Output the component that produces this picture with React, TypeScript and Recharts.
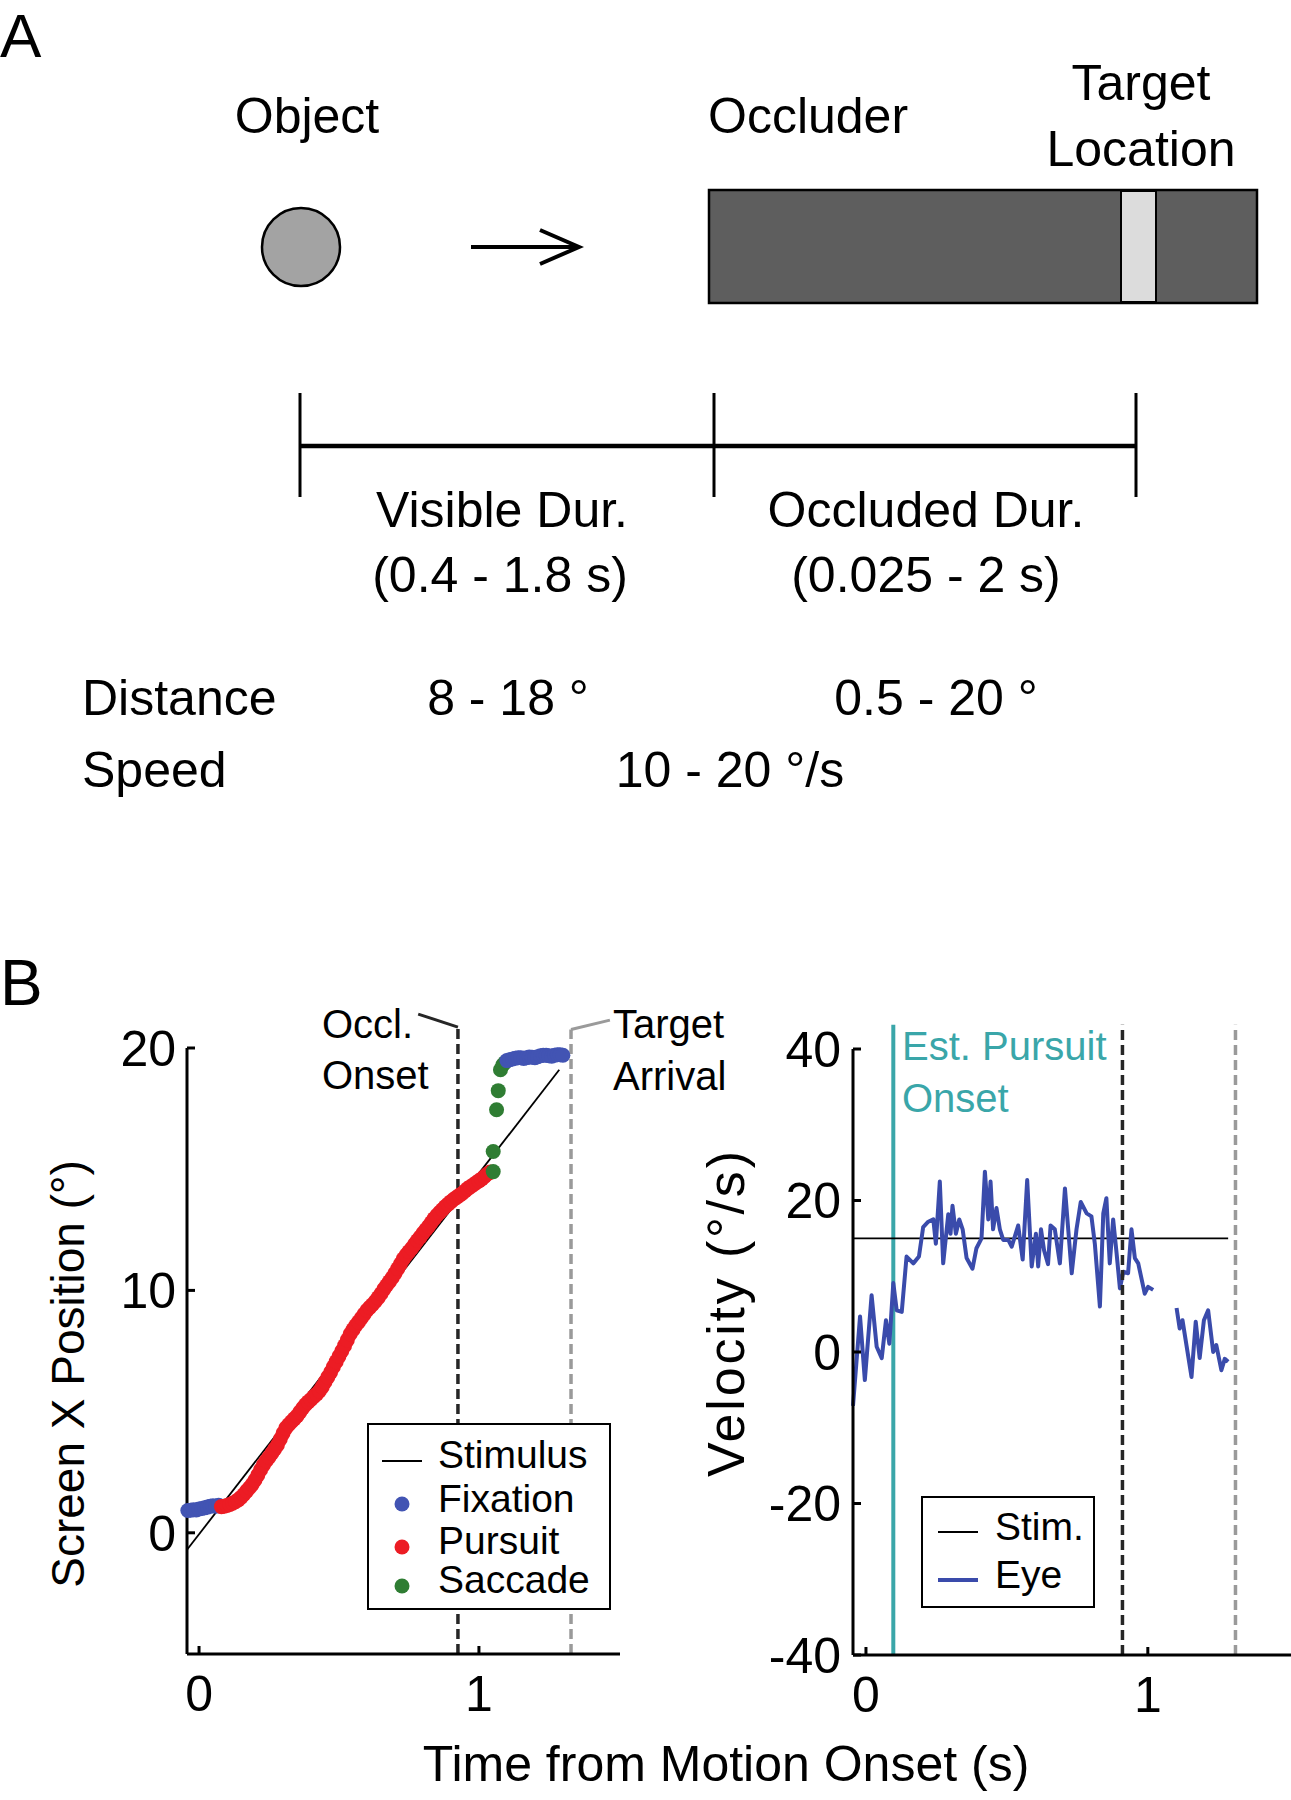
import {
  ComposedChart,
  Line,
  Scatter,
  XAxis,
  YAxis,
  ZAxis,
  ReferenceLine,
  Legend,
} from "recharts";

const FONT = "'Liberation Sans', Arial, Helvetica, sans-serif";

const BLUE = "#4254b3";
const RED = "#ec1c24";
const GREEN = "#2f7d33";
const TRACE = "#3a4bab";
const TEAL = "#3aa6a9";
const DARK = "#262626";
const GREY = "#9a9a9a";

// B left: eye position (s, deg)
const fixStartT = [-0.04, -0.03, -0.02, -0.01, 0.0, 0.01, 0.02, 0.03, 0.04, 0.05, 0.06, 0.07];
const fixStartX = [0.92, 0.93, 0.95, 0.94, 0.98, 1.0, 1.03, 1.06, 1.1, 1.12, 1.1, 1.14];

const pursuitT = [
  0.08, 0.09, 0.1, 0.11, 0.12, 0.13, 0.14, 0.15, 0.16, 0.17, 0.18, 0.19, 0.2, 0.21, 0.22, 0.23,
  0.24, 0.25, 0.26, 0.27, 0.28, 0.29, 0.3, 0.31, 0.32, 0.33, 0.34, 0.35, 0.36, 0.37, 0.38, 0.39,
  0.4, 0.41, 0.42, 0.43, 0.44, 0.45, 0.46, 0.47, 0.48, 0.49, 0.5, 0.51, 0.52, 0.53, 0.54, 0.55,
  0.56, 0.57, 0.58, 0.59, 0.6, 0.61, 0.62, 0.63, 0.64, 0.65, 0.66, 0.67, 0.68, 0.69, 0.7, 0.71,
  0.72, 0.73, 0.74, 0.75, 0.76, 0.77, 0.78, 0.79, 0.8, 0.81, 0.82, 0.83, 0.84, 0.85, 0.86, 0.87,
  0.88, 0.89, 0.9, 0.91, 0.92, 0.93, 0.94, 0.95, 0.96, 0.97, 0.98, 0.99, 1.0, 1.01, 1.02, 1.03, 1.04,
];
const pursuitX = [
  1.08, 1.1, 1.13, 1.17, 1.22, 1.28, 1.36, 1.46, 1.58, 1.72, 1.86, 2.0, 2.18, 2.38, 2.6, 2.8,
  2.97, 3.12, 3.28, 3.45, 3.62, 3.86, 4.1, 4.32, 4.46, 4.58, 4.7, 4.82, 4.98, 5.14, 5.28, 5.4,
  5.5, 5.62, 5.72, 5.85, 6.02, 6.22, 6.42, 6.62, 6.85, 7.06, 7.28, 7.5, 7.72, 7.96, 8.2, 8.38,
  8.55, 8.7, 8.86, 9.02, 9.18, 9.3, 9.42, 9.55, 9.7, 9.86, 10.04, 10.2, 10.36, 10.52, 10.7, 10.9,
  11.1, 11.3, 11.46, 11.6, 11.74, 11.9, 12.06, 12.2, 12.36, 12.5, 12.64, 12.8, 12.96, 13.1, 13.22, 13.34,
  13.46, 13.56, 13.66, 13.76, 13.84, 13.92, 14.0, 14.1, 14.2, 14.28, 14.36, 14.44, 14.52, 14.6, 14.7, 14.8, 14.88,
];

const saccadeT = [1.051, 1.051, 1.063, 1.069, 1.077, 1.085, 1.093];
const saccadeX = [14.9, 15.73, 17.45, 18.24, 19.1, 19.3, 19.4];

const fixEndT = [
  1.1, 1.11, 1.12, 1.13, 1.14, 1.15, 1.16, 1.17, 1.18, 1.19, 1.2, 1.21, 1.22, 1.23, 1.24, 1.25,
  1.26, 1.27, 1.28, 1.29, 1.3,
];
const fixEndX = [
  19.48, 19.52, 19.55, 19.58, 19.6, 19.6, 19.57, 19.6, 19.63, 19.62, 19.6, 19.64, 19.68, 19.7, 19.7, 19.68,
  19.66, 19.7, 19.72, 19.72, 19.7,
];

const stimPosT = [-0.043, 1.287];
const stimPosX = [-0.7, 19.1];

// event times as drawn in each panel (s)
const posEvents = { occlusion: 0.925, arrival: 1.329 };
const velEvents = { onset: 0.097, occlusion: 0.91, arrival: 1.311 };

// B right: eye velocity (s, deg/s); null = saccade gap
const eyeT = [
  -0.046, -0.021, -0.004, 0.02, 0.038, 0.056, 0.071, 0.083, 0.097, 0.109, 0.127, 0.144, 0.168,
  0.188, 0.203, 0.221, 0.239, 0.248, 0.262, 0.274, 0.292, 0.3, 0.307, 0.319, 0.331, 0.343, 0.357,
  0.378, 0.392, 0.41, 0.422, 0.434, 0.442, 0.451, 0.463, 0.475, 0.487, 0.505, 0.517, 0.54, 0.556,
  0.572, 0.588, 0.603, 0.611, 0.621, 0.632, 0.646, 0.655, 0.67, 0.688, 0.706, 0.73, 0.747, 0.762,
  0.783, 0.8, 0.812, 0.83, 0.842, 0.853, 0.865, 0.877, 0.889, 0.901, 0.913, 0.93, 0.942, 0.954,
  0.966, 0.989, 1.001, 1.019, 1.06, 1.102, 1.113, 1.123, 1.155, 1.17, 1.184, 1.199, 1.214, 1.232,
  1.243, 1.261, 1.273, 1.285,
];
const eyeV = [
  -7.1, 4.7, -3.7, 7.5, 0.7, -0.8, 4.2, 1.1, 9.1, 5.5, 5.3, 12.6, 11.7,
  12.6, 16.5, 17.2, 17.5, 14.3, 22.5, 11.7, 18.2, 15.6, 19.3, 15.6, 17.5, 16.2, 12.4,
  11.0, 13.7, 15.0, 23.8, 17.5, 22.5, 16.2, 19.0, 16.2, 14.8, 14.8, 13.9, 16.7, 12.2,
  22.7, 11.3, 15.6, 11.3, 16.2, 13.4, 11.6, 16.7, 16.2, 11.7, 21.6, 10.4, 16.2, 19.8,
  18.3, 17.9, 14.3, 6.0, 18.3, 20.3, 11.7, 17.5, 13.1, 8.4, 10.6, 10.4, 16.2, 12.4,
  11.7, 7.7, 8.6, 8.2, null, 5.8, 3.1, 4.2, -3.3, 4.0, -0.8, 4.2, 5.5, 0.0,
  0.9, -2.4, -0.9, -1.3,
];

const stimVelT = [-0.046, 1.285];
const stimVelV = [15, 15];

const zip = (ts: number[], ys: (number | null)[]) => ts.map((t, i) => ({ t, y: ys[i] }));

const axisStyle = { stroke: "#000", strokeWidth: 3 };
const tickStyle = { fill: "#000", fontSize: 50, fontFamily: FONT };

function PositionLegend() {
  const rows = [
    { label: "Fixation", color: BLUE, cy: 81, base: 89 },
    { label: "Pursuit", color: RED, cy: 124, base: 131 },
    { label: "Saccade", color: GREEN, cy: 163, base: 170 },
  ];
  return (
    <svg width={244} height={187} style={{ fontFamily: FONT, display: "block" }}>
      <rect x={1} y={1} width={242} height={185} fill="#fff" stroke="#000" strokeWidth={2} />
      <line x1={15} x2={55} y1={38} y2={38} stroke="#000" strokeWidth={1.8} />
      <text x={71} y={45} fontSize={39}>Stimulus</text>
      {rows.map((r) => (
        <g key={r.label}>
          <circle cx={35} cy={r.cy} r={7.5} fill={r.color} />
          <text x={71} y={r.base} fontSize={39}>{r.label}</text>
        </g>
      ))}
    </svg>
  );
}

function VelocityLegend() {
  return (
    <svg width={174} height={112} style={{ fontFamily: FONT, display: "block" }}>
      <rect x={1} y={1} width={172} height={110} fill="#fff" stroke="#000" strokeWidth={2} />
      <line x1={17} x2={57} y1={36} y2={36} stroke="#000" strokeWidth={1.8} />
      <text x={74} y={44} fontSize={39}>Stim.</text>
      <line x1={17} x2={57} y1={84} y2={84} stroke={TRACE} strokeWidth={4} />
      <text x={74} y={92} fontSize={39}>Eye</text>
    </svg>
  );
}

function PositionChart() {
  return (
    <ComposedChart width={640} height={745} margin={{ top: 48, right: 20, bottom: 0, left: 0 }}>
      <XAxis
        type="number"
        dataKey="t"
        domain={[-0.043, 1.504]}
        ticks={[0, 1]}
        interval={0}
        height={91}
        tickSize={-8}
        tickMargin={29}
        axisLine={axisStyle}
        tickLine={axisStyle}
        tick={tickStyle}
      />
      <YAxis
        type="number"
        dataKey="y"
        domain={[-5, 20]}
        ticks={[0, 10, 20]}
        interval={0}
        width={187}
        tickSize={-8}
        tickMargin={19}
        axisLine={axisStyle}
        tickLine={axisStyle}
        tick={tickStyle}
      />
      <ZAxis type="number" range={[177, 177]} />
      <Scatter data={zip(fixStartT, fixStartX)} fill={BLUE} isAnimationActive={false} />
      <Scatter data={zip(pursuitT, pursuitX)} fill={RED} isAnimationActive={false} />
      <Scatter data={zip(saccadeT, saccadeX)} fill={GREEN} isAnimationActive={false} />
      <Scatter data={zip(fixEndT, fixEndX)} fill={BLUE} isAnimationActive={false} />
      <Line
        data={zip(stimPosT, stimPosX)}
        dataKey="y"
        stroke="#000"
        strokeWidth={1.8}
        dot={false}
        isAnimationActive={false}
      />
      <ReferenceLine
        segment={[{ x: posEvents.occlusion, y: -5 }, { x: posEvents.occlusion, y: 20.86 }]}
        stroke={DARK}
        strokeWidth={3.5}
        strokeDasharray="10 5"
        ifOverflow="visible"
      />
      <ReferenceLine
        segment={[{ x: 0.783, y: 21.4 }, { x: posEvents.occlusion, y: 20.86 }]}
        stroke={DARK}
        strokeWidth={3}
        ifOverflow="visible"
      />
      <ReferenceLine
        segment={[{ x: posEvents.arrival, y: -5 }, { x: posEvents.arrival, y: 20.76 }]}
        stroke={GREY}
        strokeWidth={3.5}
        strokeDasharray="10 5"
        ifOverflow="visible"
      />
      <ReferenceLine
        segment={[{ x: posEvents.arrival, y: 20.76 }, { x: 1.468, y: 21.15 }]}
        stroke={GREY}
        strokeWidth={3}
        ifOverflow="visible"
      />
      <Legend
        layout="horizontal"
        verticalAlign="middle"
        align="center"
        content={() => <PositionLegend />}
        wrapperStyle={{ left: 367, top: 423, width: 244, height: 187 }}
      />
    </ComposedChart>
  );
}

function VelocityChart() {
  return (
    <ComposedChart width={631} height={745} margin={{ top: 49, right: 0, bottom: 0, left: 0 }}>
      <XAxis
        type="number"
        dataKey="t"
        domain={[-0.046, 1.508]}
        ticks={[0, 1]}
        interval={0}
        height={90}
        tickSize={-8}
        tickMargin={29}
        axisLine={axisStyle}
        tickLine={axisStyle}
        tick={tickStyle}
      />
      <YAxis
        type="number"
        dataKey="y"
        domain={[-40, 40]}
        ticks={[-40, -20, 0, 20, 40]}
        interval={0}
        width={193}
        tickSize={-8}
        tickMargin={20}
        axisLine={axisStyle}
        tickLine={axisStyle}
        tick={tickStyle}
      />
      <ReferenceLine
        segment={[{ x: velEvents.onset, y: -40 }, { x: velEvents.onset, y: 43.2 }]}
        stroke={TEAL}
        strokeWidth={4}
        ifOverflow="visible"
      />
      <Line
        data={zip(stimVelT, stimVelV)}
        dataKey="y"
        stroke="#000"
        strokeWidth={1.8}
        dot={false}
        isAnimationActive={false}
      />
      <Line
        data={zip(eyeT, eyeV)}
        dataKey="y"
        stroke={TRACE}
        strokeWidth={4}
        dot={false}
        strokeLinejoin="round"
        isAnimationActive={false}
      />
      <ReferenceLine
        segment={[{ x: velEvents.occlusion, y: -40 }, { x: velEvents.occlusion, y: 43.2 }]}
        stroke={DARK}
        strokeWidth={3.5}
        strokeDasharray="10 5"
        ifOverflow="visible"
      />
      <ReferenceLine
        segment={[{ x: velEvents.arrival, y: -40 }, { x: velEvents.arrival, y: 43.2 }]}
        stroke={GREY}
        strokeWidth={3.5}
        strokeDasharray="10 5"
        ifOverflow="visible"
      />
      <Legend
        layout="horizontal"
        verticalAlign="middle"
        align="center"
        content={() => <VelocityLegend />}
        wrapperStyle={{ left: 261, top: 496, width: 174, height: 112 }}
      />
    </ComposedChart>
  );
}

// Panel A schematic and the panel-level labels
function Overlay() {
  const t = { fontFamily: FONT, fill: "#000" };
  return (
    <svg
      width={1291}
      height={1800}
      style={{ position: "absolute", left: 0, top: 0, pointerEvents: "none" }}
    >
      <g {...t} fontSize={50}>
        <text x={0} y={57} fontSize={62}>A</text>
        <text x={307} y={133} textAnchor="middle">Object</text>
        <text x={708} y={133}>Occluder</text>
        <text x={1141} y={100} textAnchor="middle">Target</text>
        <text x={1141} y={166} textAnchor="middle">Location</text>

        <text x={502} y={527} textAnchor="middle">Visible Dur.</text>
        <text x={500} y={592} textAnchor="middle">(0.4 - 1.8 s)</text>
        <text x={926} y={527} textAnchor="middle">Occluded Dur.</text>
        <text x={926} y={592} textAnchor="middle">(0.025 - 2 s)</text>

        <text x={82} y={715}>Distance</text>
        <text x={508} y={715} textAnchor="middle">8 - 18 °</text>
        <text x={936} y={715} textAnchor="middle">0.5 - 20 °</text>
        <text x={82} y={787}>Speed</text>
        <text x={730} y={787} textAnchor="middle">10 - 20 °/s</text>
      </g>

      <circle cx={301} cy={247} r={39} fill="#a3a3a3" stroke="#000" strokeWidth={2.5} />
      <line x1={471} y1={247} x2={577} y2={247} stroke="#000" strokeWidth={4} />
      <polyline points="540,230 579,247 540,264" fill="none" stroke="#000" strokeWidth={4} />
      <rect x={709} y={190} width={548} height={113} fill="#5e5e5e" stroke="#000" strokeWidth={2.5} />
      <rect x={1121} y={191} width={35} height={111} fill="#dcdcdc" stroke="#000" strokeWidth={2} />

      <line x1={300} y1={446} x2={1136} y2={446} stroke="#000" strokeWidth={4.5} />
      {[300, 714, 1136].map((x) => (
        <line key={x} x1={x} y1={393} x2={x} y2={497} stroke="#000" strokeWidth={3} />
      ))}

      <g {...t} fontSize={40}>
        <text x={0} y={1005} fontSize={64}>B</text>
        <text x={322} y={1038}>Occl.</text>
        <text x={322} y={1089}>Onset</text>
        <text x={613} y={1038}>Target</text>
        <text x={613} y={1090}>Arrival</text>
        <text x={902} y={1060} fill={TEAL}>Est. Pursuit</text>
        <text x={902} y={1112} fill={TEAL}>Onset</text>
      </g>

      <g {...t}>
        <text x={84} y={1374} fontSize={46} textAnchor="middle" transform="rotate(-90 84 1374)">
          Screen X Position (°)
        </text>
        <text
          x={744}
          y={1314}
          fontSize={52}
          textAnchor="middle"
          textLength={326}
          lengthAdjust="spacing"
          transform="rotate(-90 744 1314)"
        >
          Velocity (°/s)
        </text>
        <text x={726} y={1781} fontSize={50} textAnchor="middle">Time from Motion Onset (s)</text>
      </g>
    </svg>
  );
}

export default function App() {
  return (
    <div
      style={{
        position: "absolute",
        left: 0,
        top: 0,
        width: 1291,
        height: 1800,
        background: "#fff",
        overflow: "hidden",
        fontFamily: FONT,
      }}
    >
      <div style={{ position: "absolute", left: 0, top: 1000 }}>
        <PositionChart />
      </div>
      <div style={{ position: "absolute", left: 660, top: 1000 }}>
        <VelocityChart />
      </div>
      <Overlay />
    </div>
  );
}
